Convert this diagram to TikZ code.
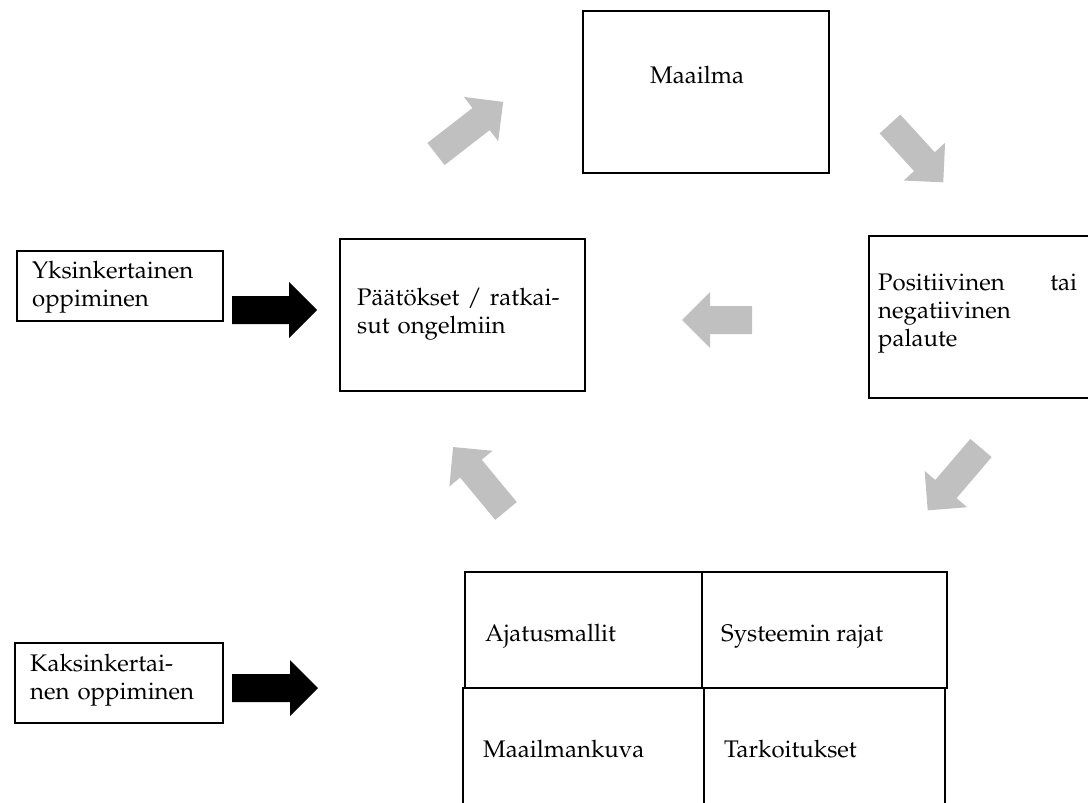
\documentclass[tikz,border=0pt]{standalone}
\usepackage[T1]{fontenc}
\usepackage{mathpazo}
\definecolor{arrgray}{HTML}{C0C0C0}
\newcommand{\blockarr}[5]{%
  \begin{scope}[shift={(#1,#2)}, rotate=#3]
    \fill[#5] (0,-14) -- ({#4-28},-14) -- ({#4-28},-28) -- (#4,0) -- ({#4-28},28) -- ({#4-28},14) -- (0,14) -- cycle;
  \end{scope}}
\begin{document}
\begin{tikzpicture}[x=1pt,y=-1pt,
  box/.style={draw, line width=1.6pt, inner sep=0pt, anchor=north west},
  txt/.style={anchor=base west, inner sep=0pt, font=\fontsize{24}{28}\selectfont, align=left},
  ln/.style={line width=1.6pt}]
\useasboundingbox (0,0) rectangle (1088,803);
\clip (0,0) rectangle (1088,803);
% boxes
\node[box, minimum width=246pt, minimum height=162pt] (maailma) at (582,10) {};
\node[box, minimum width=245pt, minimum height=152pt] (paatos) at (339,238) {};
\draw[ln] (1100,236) -- (869,236) -- (869,398) -- (1100,398);
\coordinate (palaute) at (978,317);
\node[box, minimum width=206pt, minimum height=70pt] (yks) at (16,250) {};
\node[box, minimum width=208pt, minimum height=80pt] (kaks) at (14,642) {};
% grid
\node[box, minimum width=482pt, minimum height=116pt] (grid) at (464,571) {};
\draw[ln] (702,571) -- (702,687);
\draw[ln] (463,687) -- (463,810);
\draw[ln] (704,687) -- (704,810);
\draw[ln] (945,687) -- (945,810);
% texts
\node[txt] (t1) at (650,83) {Maailma};
\node[txt, text width=220pt] (t2) at (357,305) {P\"a\"at\"okset / ratkai-\\sut ongelmiin};
\node[txt, text width=199pt] (t3) at (878,290) {Positiivinen\hfill tai\\negatiivinen\\palaute};
\node[txt, text width=200pt] (t4) at (32,278) {Yksinkertainen\\oppiminen};
\node[txt, text width=200pt] (t5) at (30,671) {Kaksinkertai-\\nen oppiminen};
\node[txt] (t6) at (485,641) {Ajatusmallit};
\node[txt] (t7) at (721,641) {Systeemin rajat};
\node[txt] (t8) at (483,757) {Maailmankuva};
\node[txt] (t9) at (724,757) {Tarkoitukset};
% black arrows
\blockarr{232}{310}{0}{85}{black}
\blockarr{232}{688}{0}{86}{black}
% gray arrows
\blockarr{752}{320}{180}{70}{arrgray}
\blockarr{436}{154}{37.8}{85}{arrgray}
\blockarr{890}{124}{-47.6}{79}{arrgray}
\blockarr{981}{448}{229.5}{82}{arrgray}
\blockarr{506}{511}{129.6}{83}{arrgray}
\end{tikzpicture}
\end{document}
